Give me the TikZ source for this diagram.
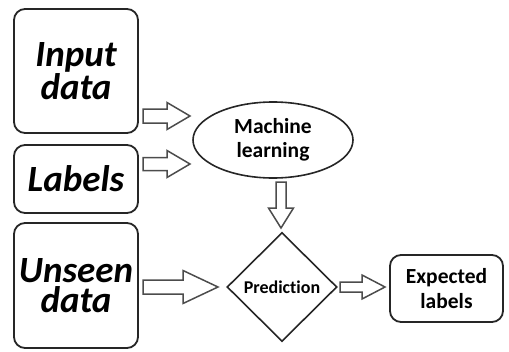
\documentclass[tikz,border=0pt]{standalone}
\usepackage{fontspec}
\setmainfont{Carlito}[Ligatures=NoCommon]
\usetikzlibrary{shapes.geometric,calc}
\begin{document}
\begin{tikzpicture}[x=1pt,y=-1pt,
  box/.style={draw=black!85, line width=1.8pt, rounded corners=11pt, inner sep=0pt, align=center},
  shapeline/.style={draw=black!85, line width=1.6pt, inner sep=0pt, align=center},
  bigtext/.style={font=\fontsize{37}{30.5}\selectfont\bfseries\itshape},
  midtext/.style={font=\fontsize{21.5}{24.5}\selectfont\bfseries},
  % hollow block arrow, horizontal: #1 head length, #2 half shaft, #3 half head
  harrow/.style n args={3}{draw=black!70, line width=1.5pt, line join=miter,
    to path={let \p1=(\tikztostart), \p2=(\tikztotarget) in
      (\x1,\y1-#2) -- (\x2-#1,\y1-#2) -- (\x2-#1,\y1-#3) -- (\x2,\y1)
      -- (\x2-#1,\y1+#3) -- (\x2-#1,\y1+#2) -- (\x1,\y1+#2) -- cycle}},
  % hollow block arrow pointing down
  varrow/.style n args={3}{draw=black!70, line width=1.5pt, line join=miter,
    to path={let \p1=(\tikztostart), \p2=(\tikztotarget) in
      (\x1-#2,\y1) -- (\x1-#2,\y2+#1) -- (\x1-#3,\y2+#1) -- (\x1,\y2)
      -- (\x1+#3,\y2+#1) -- (\x1+#2,\y2+#1) -- (\x1+#2,\y1) -- cycle}},
]
\useasboundingbox (0,0) rectangle (509,351);

% input boxes
\node[box, bigtext, minimum width=124pt, minimum height=124pt] (in) at (76,71) {Input\\data};
\node[box, bigtext, minimum width=124pt, minimum height=68pt] (lab) at (76,179) {Labels};
\node[box, bigtext, minimum width=124pt, minimum height=125pt] (un) at (76,285.5) {Unseen\\data};

% processing shapes
\node[shapeline, ellipse, midtext, minimum width=160pt, minimum height=76pt] (ml) at (273,140) {Machine\\learning};
\node[shapeline, diamond, font=\fontsize{18}{20}\selectfont\bfseries, minimum width=110pt, minimum height=109pt, aspect=1] (pr) at (282,287) {Prediction};

% output box
\node[box, midtext, minimum width=113pt, minimum height=67pt] (ex) at (446.5,288.5) {Expected\\labels};

% arrow end points
\coordinate (a1s) at (143,116); \coordinate (a1e) at (190,116);
\coordinate (a2s) at (143,164); \coordinate (a2e) at (190,164);
\coordinate (a3s) at (281,182); \coordinate (a3e) at (281,228);
\coordinate (a4s) at (143,287); \coordinate (a4e) at (218,287);
\coordinate (a5s) at (340,287); \coordinate (a5e) at (385,287);

\draw[harrow={23pt}{7pt}{13.5pt}] (a1s) to (a1e);
\draw[harrow={23pt}{6.5pt}{13.5pt}] (a2s) to (a2e);
\draw[varrow={20pt}{5pt}{12.5pt}] (a3s) to (a3e);
\draw[harrow={35pt}{7pt}{16.5pt}] (a4s) to (a4e);
\draw[harrow={23pt}{5pt}{12pt}] (a5s) to (a5e);
\end{tikzpicture}
\end{document}
